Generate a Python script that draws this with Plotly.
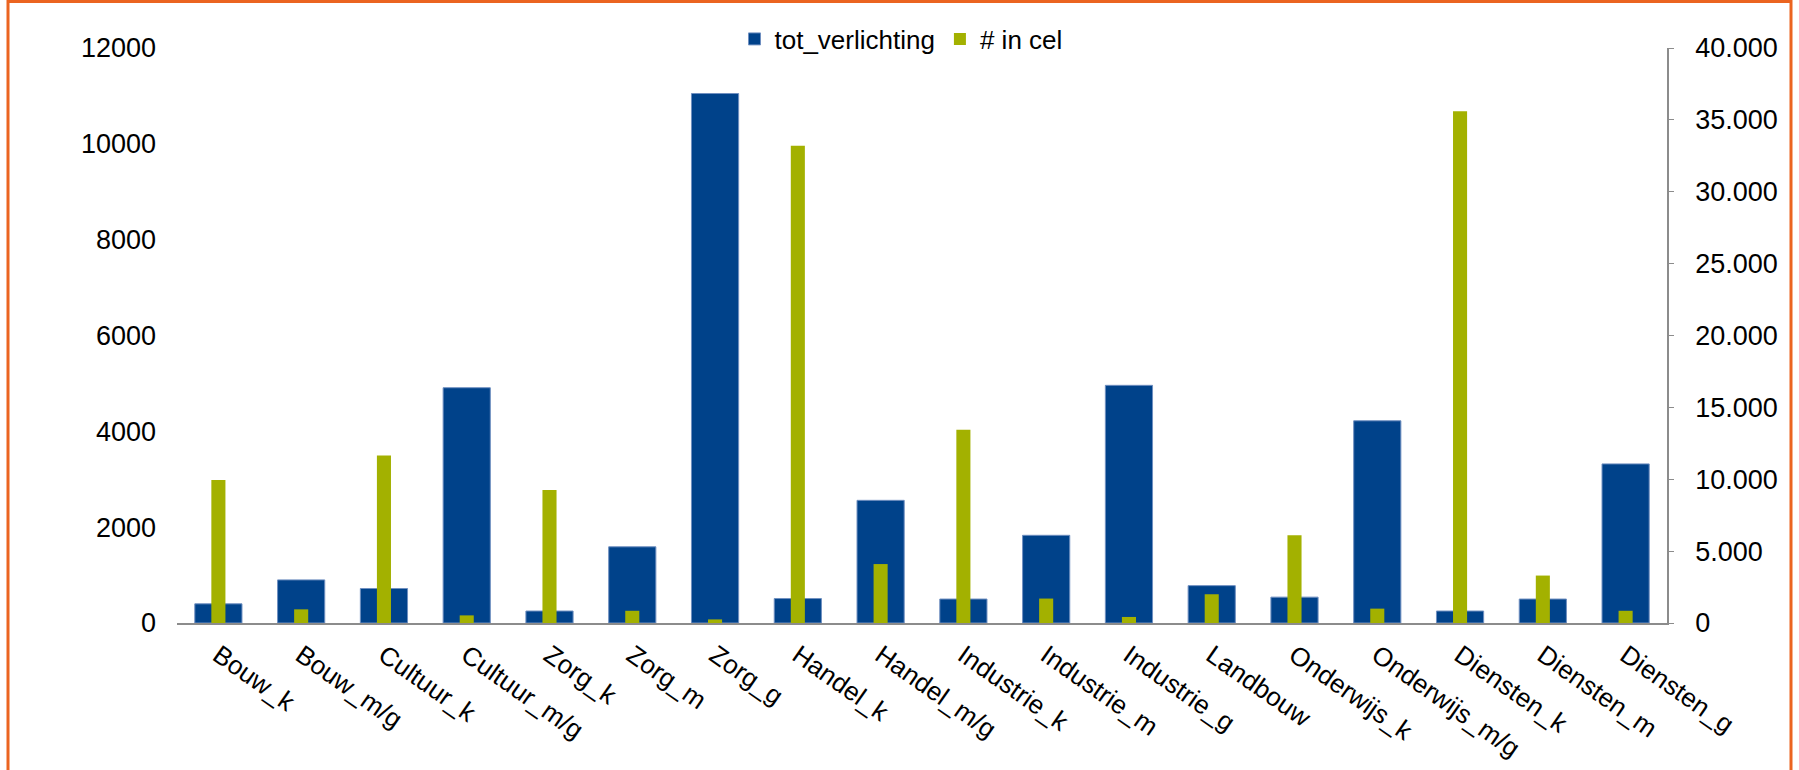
import plotly.graph_objects as go

categories = ["Bouw_k", "Bouw_m/g", "Cultuur_k", "Cultuur_m/g", "Zorg_k", "Zorg_m", "Zorg_g",
              "Handel_k", "Handel_m/g", "Industrie_k", "Industrie_m", "Industrie_g", "Landbouw",
              "Onderwijs_k", "Onderwijs_m/g", "Diensten_k", "Diensten_m", "Diensten_g"]
tot_verlichting = [400, 900, 720, 4910, 250, 1590, 11050, 510, 2560, 500, 1830, 4960, 780,
                   540, 4220, 250, 500, 3320]
in_cel = [9950, 950, 11650, 530, 9250, 850, 250, 33200, 4100, 13450, 1700, 420, 2000,
          6100, 1000, 35600, 3300, 850]

left_ticks = [0, 2000, 4000, 6000, 8000, 10000, 12000]
right_ticks = [0, 5000, 10000, 15000, 20000, 25000, 30000, 35000, 40000]

BLUE = "#00428A"
GREEN = "#A3B100"
ORANGE = "#EB6420"
FONT = "Liberation Sans, Arial, sans-serif"

W, H = 1799, 770
L, R, T, B = 177, 132, 48, 147
pw, ph = W - L - R, H - T - B

def px_to_paper_x(px):
    return (px - L) / pw

def px_to_paper_y(py):
    return (H - B - py) / ph

fig = go.Figure()
fig.add_trace(go.Bar(x=categories, y=tot_verlichting, name="tot_verlichting",
                     marker=dict(color=BLUE, line=dict(width=1, color="#6f8fc0")),
                     width=0.57, yaxis="y"))
fig.add_trace(go.Bar(x=categories, y=in_cel, name="# in cel",
                     marker=dict(color=GREEN, line=dict(width=0)),
                     width=0.17, yaxis="y2"))

fig.update_layout(
    width=W, height=H,
    margin=dict(l=L, r=R, t=T, b=B, autoexpand=False),
    paper_bgcolor="white", plot_bgcolor="white",
    barmode="overlay",
    separators=",.",
    font=dict(family=FONT, size=26, color="black"),
    xaxis=dict(type="category", tickangle=35, showgrid=False, zeroline=False,
               showline=True, linecolor="#8c8c8c", linewidth=2, ticks="",
               ticklabelstandoff=5,
               tickfont=dict(size=26), range=[-0.5, len(categories) - 0.5]),
    yaxis=dict(range=[0, 12000], tickvals=left_ticks, tickformat="d", showgrid=False,
               zeroline=False, showline=False, ticks="", ticklabelstandoff=20,
               tickfont=dict(size=27)),
    yaxis2=dict(range=[0, 40000], tickvals=right_ticks, tickformat=",.0f", overlaying="y",
                side="right", showgrid=False, zeroline=False, showline=True,
                linecolor="#8c8c8c", linewidth=1.5, ticks="outside", ticklen=5,
                tickcolor="#8c8c8c", ticklabelstandoff=16, tickfont=dict(size=27)),
    legend=dict(orientation="h", x=px_to_paper_x(901), xanchor="center",
                y=px_to_paper_y(39), yanchor="middle", font=dict(size=26),
                bgcolor="rgba(0,0,0,0)", traceorder="normal"),
    showlegend=True,
    shapes=[dict(type="rect", xref="paper", yref="paper",
                 x0=px_to_paper_x(8), x1=px_to_paper_x(1791),
                 y0=px_to_paper_y(820), y1=px_to_paper_y(1.5),
                 line=dict(color=ORANGE, width=3), fillcolor="rgba(0,0,0,0)",
                 layer="below")],
)

fig.write_html("out.html", config={"displayModeBar": False},
               post_script="document.body.style.margin='0';document.body.style.overflow='hidden';")
